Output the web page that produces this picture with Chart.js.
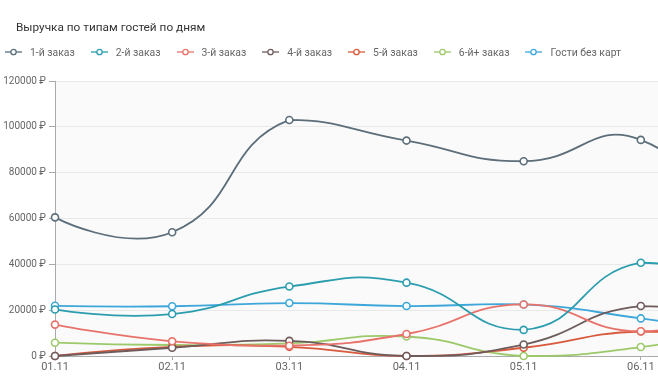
<!DOCTYPE html>
<html><head><meta charset="utf-8">
<script src="https://cdn.jsdelivr.net/npm/chart.js@4.4.0/dist/chart.umd.min.js"></script>
<style>
html,body{margin:0;padding:0;background:#fff;overflow:hidden;width:658px;height:389px;}
#wrap{position:relative;width:658px;height:389px;overflow:hidden;}
#title{position:absolute;left:16px;top:20px;font:11.8px Roboto,sans-serif;line-height:14px;color:#333;white-space:nowrap;}
#legend{position:absolute;left:5px;top:46px;display:flex;font:10.4px Roboto,sans-serif;color:#666;white-space:nowrap;line-height:14px;}
.item{display:flex;align-items:center;margin-right:16px;}
.item svg{margin-right:8px;display:block;position:relative;top:-1px;}
#cv{position:absolute;left:0;top:0;}
</style></head>
<body><div id="wrap"><canvas id="cv" width="778" height="389" style="width:778px;height:389px"></canvas><div id="title">Выручка по типам гостей по дням</div><div id="legend"></div></div>
<script>
const categories = ['01.11','02.11','03.11','04.11','05.11','06.11','07.11'];
const seriesNames = ['1-й заказ','2-й заказ','3-й заказ','4-й заказ','5-й заказ','6-й+ заказ','Гости без карт'];
const order1  = [60500, 54000, 103000, 94000, 85000, 94300, 45000];
const order2  = [20300, 18300, 30300, 32000, 11400, 40700, 30000];
const order3  = [13700, 6400, 4500, 9600, 22500, 10800, 22500];
const order4  = [0, 3600, 6600, 0, 5000, 21800, 15000];
const order5  = [0, 4000, 4000, 0, 3600, 10700, 7000];
const order6p = [5800, 4800, 5500, 8500, 0, 3900, 13000];
const guests  = [21900, 21700, 23100, 21800, 22500, 16400, 9000];
const yTicks = [0, 20000, 40000, 60000, 80000, 100000, 120000];
const colors = ['#5c6e7a','#2b9dae','#e8736b','#6e5b5b','#d8593c','#9cc96a','#3ea7da'];
const values = [order1, order2, order3, order4, order5, order6p, guests];

// HTML legend
const leg = document.getElementById('legend');
seriesNames.forEach((n,i)=>{
  const it = document.createElement('div'); it.className='item';
  it.innerHTML = `<svg width="17" height="8"><line x1="0" y1="4" x2="17" y2="4" stroke="${colors[i]}" stroke-width="1.3"/><circle cx="8.5" cy="4" r="2.7" fill="#fff" stroke="${colors[i]}" stroke-width="1.3"/></svg><span>${n}</span>`;
  leg.appendChild(it);
});

const bg = {id:'bg', beforeDraw(c){const a=c.chartArea,x=c.ctx;x.save();x.fillStyle='#fafafa';x.fillRect(a.left,a.top,a.right-a.left,a.bottom-a.top);x.restore();}};

// smoothing with control points bounded by the series' bounding box
const smooth = {
  id:'smooth',
  beforeDatasetDraw(chart, args){
    const meta = args.meta, line = meta.dataset, pts = meta.data;
    if(!line || pts.length < 2) return;
    const s = 0.5;
    let minX=Infinity,minY=Infinity,maxX=-Infinity,maxY=-Infinity;
    pts.forEach(p=>{minX=Math.min(minX,p.x);maxX=Math.max(maxX,p.x);minY=Math.min(minY,p.y);maxY=Math.max(maxY,p.y);});
    const cl=(v,a,b)=>Math.min(Math.max(v,a),b);
    pts.forEach((p,i)=>{
      if(i===0||i===pts.length-1){p.cp1x=p.cp2x=p.x;p.cp1y=p.cp2y=p.y;return;}
      const a=pts[i-1], b=pts[i+1];
      const vx=(b.x-a.x)*s, vy=(b.y-a.y)*s;
      const d0=Math.hypot(p.x-a.x,p.y-a.y), d1=Math.hypot(b.x-p.x,b.y-p.y);
      const r=(d0+d1)>0 ? d1/(d0+d1) : 0.5;
      p.cp1x=cl(p.x-vx*(1-r),minX,maxX); p.cp1y=cl(p.y-vy*(1-r),minY,maxY);
      p.cp2x=cl(p.x+vx*r,minX,maxX); p.cp2y=cl(p.y+vy*r,minY,maxY);
    });
    line._pointsUpdated = true; line._path = undefined;
  }
};

new Chart(document.getElementById('cv'), {
  type:'line',
  data:{labels:categories, datasets: seriesNames.map((n,i)=>({
    label:n, data:values[i], borderColor:colors[i], backgroundColor:'#fff',
    borderWidth:1.8, tension:0.4, pointRadius:3.5, pointBorderWidth:1.6,
    pointBackgroundColor:'#fff', pointBorderColor:colors[i], fill:false, clip:false
  }))},
  options:{
    responsive:false, animation:false,
    layout:{padding:{top:81,right:20,left:0,bottom:0}},
    plugins:{legend:{display:false}, title:{display:false}, tooltip:{enabled:false}},
    scales:{
      x:{
        grid:{drawOnChartArea:false, tickLength:4, tickColor:'#aaa'},
        border:{color:'#aaa'},
        ticks:{font:{family:'Roboto',size:11}, color:'#666', padding:1, maxRotation:0, autoSkip:false},
        afterFit(s){s.height=33;}
      },
      y:{
        min:0,max:120000,
        afterBuildTicks(s){s.ticks=yTicks.map(v=>({value:v}));},
        grid:{color:'#e9e9e9', tickLength:6, tickColor:'#aaa'},
        border:{color:'#aaa'},
        ticks:{font:{family:'Roboto',size:10}, color:'#666', padding:3, callback:v=>v+' ₽'},
        afterFit(s){s.width=55;}
      }
    }
  },
  plugins:[bg, smooth]
});
</script>
</body></html>
